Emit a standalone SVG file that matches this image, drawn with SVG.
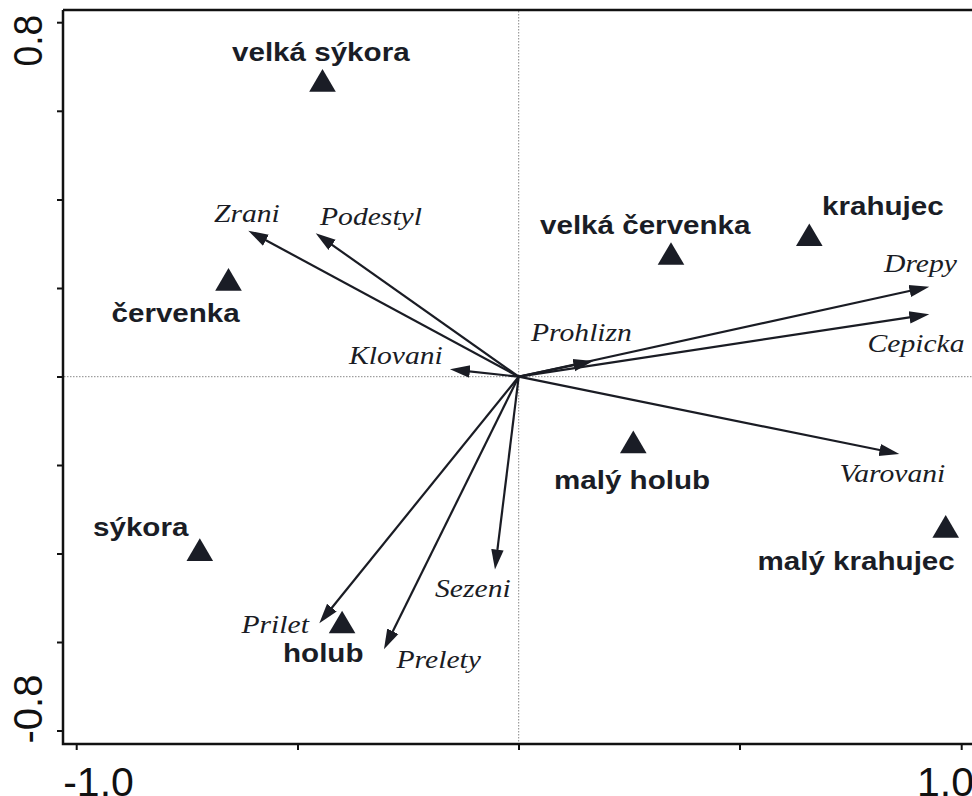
<svg xmlns="http://www.w3.org/2000/svg" xmlns:xlink="http://www.w3.org/1999/xlink" width="972" height="796" viewBox="0 0 972 796">
<style>
.frame{fill:none;stroke:#111;stroke-width:2.5}
.tick{stroke:#111;stroke-width:2}
.dot{stroke:#888;stroke-width:1;stroke-dasharray:1.5 1.5;fill:none}
.arr{stroke:#1a1c24;stroke-width:2.2;fill:none;marker-end:url(#ah)}
.sp{font-family:"Liberation Sans",Arial,sans-serif;font-weight:bold;font-size:25.5px;fill:#1a1d26}
.var{font-family:"Liberation Serif","Times New Roman",serif;font-style:italic;font-size:26px;fill:#1a1c24}
.ax{font-family:"Liberation Sans",Arial,sans-serif;font-size:40px;fill:#111}
.tri{fill:#1a1d26}
</style>
<defs>
<marker id="ah" markerUnits="userSpaceOnUse" markerWidth="22" markerHeight="14" refX="10" refY="7" orient="auto">
<path d="M0,0.8 L20,7 L0,13.2 Z" fill="#1a1c24"/>
</marker>
<path id="tri" d="M-13.3,11.3 L13.3,11.3 L0,-11.3 Z"/>
</defs>
<rect width="972" height="796" fill="#fff"/>
<g id="axes">
<line class="dot" x1="518.7" y1="11" x2="518.7" y2="743"/>
<line class="dot" x1="64" y1="376.7" x2="972" y2="376.7"/>
<path class="frame" d="M63,10 H975 M63,10 V744 H975"/>
<g class="tick">
<line x1="57" y1="22.7" x2="63" y2="22.7"/>
<line x1="57" y1="111.3" x2="63" y2="111.3"/>
<line x1="57" y1="200" x2="63" y2="200"/>
<line x1="57" y1="288.5" x2="63" y2="288.5"/>
<line x1="57" y1="377" x2="63" y2="377"/>
<line x1="57" y1="465.5" x2="63" y2="465.5"/>
<line x1="57" y1="554" x2="63" y2="554"/>
<line x1="57" y1="642.5" x2="63" y2="642.5"/>
<line x1="57" y1="731" x2="63" y2="731"/>
<line x1="76.7" y1="744" x2="76.7" y2="750"/>
<line x1="298" y1="744" x2="298" y2="750"/>
<line x1="519" y1="744" x2="519" y2="750"/>
<line x1="740" y1="744" x2="740" y2="750"/>
<line x1="961.7" y1="744" x2="961.7" y2="750"/>
</g>
<text class="ax" transform="translate(41.5 66.5) rotate(-90) scale(0.93 1)">0.8</text>
<text class="ax" transform="translate(41.5 743.5) rotate(-90)">-0.8</text>
<text class="ax" style="font-size:41px" x="63.2" y="796">-1.0</text>
<text class="ax" style="font-size:41px" x="917" y="796">1.0</text>
</g>
<g id="connectors">
<line class="arr" x1="518.7" y1="376.7" x2="257.1" y2="235.5"/>
<line class="arr" x1="518.7" y1="376.7" x2="323.9" y2="239.1"/>
<line class="arr" x1="518.7" y1="376.7" x2="459.9" y2="370.4"/>
<line class="arr" x1="518.7" y1="376.7" x2="583.5" y2="363.1"/>
<line class="arr" x1="518.7" y1="376.7" x2="919.5" y2="288.8"/>
<line class="arr" x1="518.7" y1="376.7" x2="919.4" y2="315.8"/>
<line class="arr" x1="518.7" y1="376.7" x2="889.5" y2="452.0"/>
<line class="arr" x1="518.7" y1="376.7" x2="496.2" y2="559.6"/>
<line class="arr" x1="518.7" y1="376.7" x2="325.6" y2="615.5"/>
<line class="arr" x1="518.7" y1="376.7" x2="388.4" y2="640.3"/>
</g>
<g id="var-zrani"><text class="var" transform="translate(214 221.7) scale(1.14 1)">Zrani</text></g>
<g id="var-podestyl"><text class="var" transform="translate(320 225) scale(1.14 1)">Podestyl</text></g>
<g id="var-klovani"><text class="var" transform="translate(349 364.3) scale(1.14 1)">Klovani</text></g>
<g id="var-prohlizn"><text class="var" transform="translate(531 340.7) scale(1.14 1)">Prohlizn</text></g>
<g id="var-drepy"><text class="var" transform="translate(884 271.7) scale(1.14 1)">Drepy</text></g>
<g id="var-cepicka"><text class="var" transform="translate(867.5 351.7) scale(1.14 1)">Cepicka</text></g>
<g id="var-varovani"><text class="var" transform="translate(839.5 482.3) scale(1.14 1)">Varovani</text></g>
<g id="var-sezeni"><text class="var" transform="translate(435 596.7) scale(1.14 1)">Sezeni</text></g>
<g id="var-prilet"><text class="var" transform="translate(241.5 633.3) scale(1.14 1)">Prilet</text></g>
<g id="var-prelety"><text class="var" transform="translate(396.5 668.3) scale(1.14 1)">Prelety</text></g>
<g id="sp-velka-sykora"><use href="#tri" class="tri" x="322.5" y="80.4"/><text class="sp" transform="translate(232 60.7) scale(1.16 1)">velká sýkora</text></g>
<g id="sp-cervenka"><use href="#tri" class="tri" x="228.5" y="279.4"/><text class="sp" transform="translate(111.5 321.7) scale(1.16 1)">červenka</text></g>
<g id="sp-sykora"><use href="#tri" class="tri" x="199.8" y="549.6"/><text class="sp" transform="translate(93 535.7) scale(1.16 1)">sýkora</text></g>
<g id="sp-holub"><use href="#tri" class="tri" x="342.1" y="622"/><text class="sp" transform="translate(283 661.7) scale(1.16 1)">holub</text></g>
<g id="sp-maly-holub"><use href="#tri" class="tri" x="633.3" y="441.9"/><text class="sp" transform="translate(554 489.3) scale(1.16 1)">malý holub</text></g>
<g id="sp-maly-krahujec"><use href="#tri" class="tri" x="945.7" y="526.4"/><text class="sp" transform="translate(757.5 570) scale(1.16 1)">malý krahujec</text></g>
<g id="sp-krahujec"><use href="#tri" class="tri" x="809.3" y="234.7"/><text class="sp" transform="translate(822 215) scale(1.16 1)">krahujec</text></g>
<g id="sp-velka-cervenka"><use href="#tri" class="tri" x="671" y="253.5"/><text class="sp" transform="translate(540 234) scale(1.16 1)">velká červenka</text></g>
</svg>
